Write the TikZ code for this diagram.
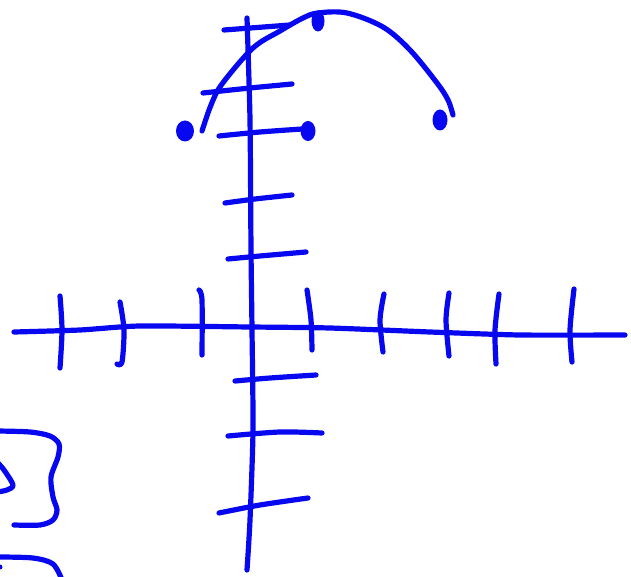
\documentclass[tikz,border=0pt]{standalone}
\definecolor{ink}{RGB}{8,8,240}
\begin{document}
\begin{tikzpicture}[x=1pt,y=-1pt,
  pen/.style={draw=ink,line width=5.2pt,line cap=round,line join=round},
  blob/.style={fill=ink}]
\useasboundingbox (0,0) rectangle (631,577);
% horizontal axis
\draw[pen] plot[smooth,tension=0.4] coordinates {(14,332) (80,330) (140,326) (250,327) (330,328) (430,332) (520,335) (625,335)};
% vertical axis
\draw[pen] plot[smooth,tension=0.4] coordinates {(247,18) (250,120) (251,250) (252,330) (253,430) (250,520) (247,570)};
% x ticks
\draw[pen] plot[smooth,tension=0.5] coordinates {(60,296) (62,330) (60,368)};
\draw[pen] plot[smooth,tension=0.5] coordinates {(120,302) (124,330) (122,362) (117,364)};
\draw[pen] plot[smooth,tension=0.5] coordinates {(199,290) (202,300) (202,355)};
\draw[pen] plot[smooth,tension=0.5] coordinates {(307,290) (311,320) (312,350)};
\draw[pen] plot[smooth,tension=0.5] coordinates {(384,294) (380,320) (383,352)};
\draw[pen] plot[smooth,tension=0.5] coordinates {(449,293) (446,320) (449,356)};
\draw[pen] plot[smooth,tension=0.5] coordinates {(499,294) (495,330) (496,364)};
\draw[pen] plot[smooth,tension=0.5] coordinates {(574,289) (570,330) (572,362)};
% y ticks
\draw[pen] (224,30) -- (290,25);
\draw[pen] plot[smooth,tension=0.5] coordinates {(203,93) (250,88) (292,84)};
\draw[pen] plot[smooth,tension=0.5] coordinates {(219,136) (260,132) (302,129)};
\draw[pen] plot[smooth,tension=0.5] coordinates {(225,203) (255,199) (292,195)};
\draw[pen] plot[smooth,tension=0.5] coordinates {(228,259) (260,256) (306,252)};
\draw[pen] plot[smooth,tension=0.5] coordinates {(235,381) (270,378) (316,375)};
\draw[pen] plot[smooth,tension=0.5] coordinates {(228,436) (280,432) (322,433)};
\draw[pen] plot[smooth,tension=0.5] coordinates {(219,513) (260,505) (308,498)};
% parabola-like curve
\draw[pen] plot[smooth,tension=0.55] coordinates {(202,131) (211,105) (222,84) (253,48) (280,31) (303,18) (318,13) (347,13) (383,27) (410,50) (437,83) (448,100) (453,115)};
% dots
\fill[blob] (185,131) ellipse [x radius=9pt,y radius=10.5pt];
\fill[blob] (308,131) ellipse [x radius=7.5pt,y radius=10pt];
\fill[blob] (440,120) ellipse [x radius=7.5pt,y radius=10.5pt];
\fill[blob] (318,21) ellipse [x radius=6.5pt,y radius=10.5pt];
% bottom-left squiggles
\draw[pen] plot[smooth,tension=0.5] coordinates {(-3,431) (30,432) (50,436) (59,444) (58,457) (51,477) (53,497) (57,510) (53,520) (40,525) (14,525)};
\draw[pen] plot[smooth,tension=0.5] coordinates {(-3,462) (4,470) (13,485) (7,490) (-3,492)};
\draw[pen] plot[smooth,tension=0.5] coordinates {(-3,557) (33,558) (53,564) (62,580)};
\fill[blob] (0,567) circle [radius=2.5pt];
\end{tikzpicture}
\end{document}
